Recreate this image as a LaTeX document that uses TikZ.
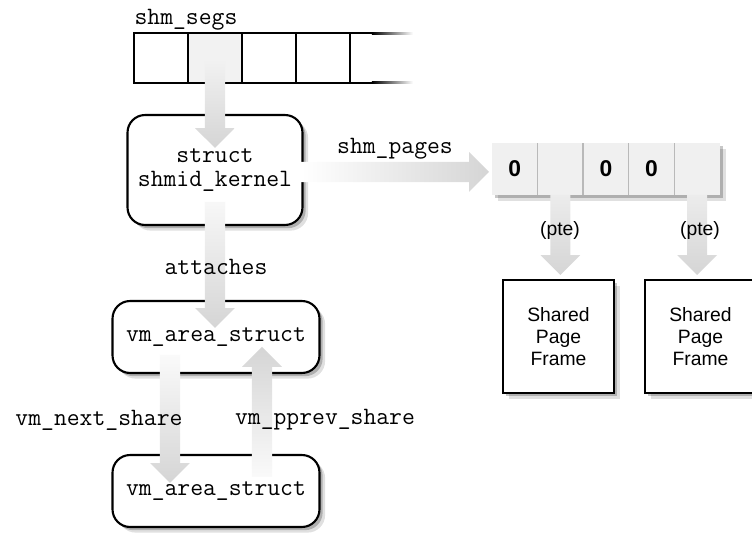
\documentclass[tikz,border=0pt]{standalone}
\usepackage{fontspec}
\setsansfont{Liberation Sans}
\usepackage{tikz}
\usetikzlibrary{calc,positioning,shadows}

\tikzset{
  mono/.style={font=\ttfamily\fontsize{14.2}{12.5}\selectfont},
  boxshadow/.style={drop shadow={shadow xshift=3.2pt, shadow yshift=-3.2pt, opacity=0.12, fill=black},
                    drop shadow={shadow xshift=1.8pt, shadow yshift=-1.8pt, opacity=0.22, fill=black}},
  segcell/.style={draw, line width=1.2pt, outer sep=0pt, inner sep=0pt, minimum width=1.08cm, minimum height=1cm},
  kbox/.style={draw, line width=1.2pt, rounded corners=10pt, fill=white, boxshadow, align=center, mono},
  pgcell/.style={fill=gray!12, outer sep=0pt, inner sep=0pt, minimum width=0.912cm, minimum height=1.04cm,
                 boxshadow, font=\sffamily\bfseries\fontsize{13}{13}\selectfont},
  framebox/.style={draw, line width=1.2pt, fill=white, boxshadow, minimum width=2.22cm, minimum height=2.26cm,
                   align=center, font=\sffamily\fontsize{11}{12.5}\selectfont},
  pte/.style={font=\sffamily\fontsize{11}{12}\selectfont},
  % fat grey arrow, drawn as a polygon from start to target
  fat/.style={to path={let \p1=($(\tikztotarget)!11.3pt!(\tikztostart)$) in
    ($(\tikztostart)!5.7pt!90:(\tikztotarget)$)
    -- ($(\p1)!5.7pt!90:(\tikztotarget)$)
    -- ($(\p1)!11.3pt!90:(\tikztotarget)$)
    -- (\tikztotarget)
    -- ($(\p1)!11.3pt!-90:(\tikztotarget)$)
    -- ($(\p1)!5.7pt!-90:(\tikztotarget)$)
    -- ($(\tikztostart)!5.7pt!-90:(\tikztotarget)$) -- cycle}}
}

\begin{document}
\begin{tikzpicture}[x=0.02cm, y=-0.02cm]
  \useasboundingbox (0,0) rectangle (752,537);

  % shm_segs array
  \node[mono] (segslbl) at (186,20) {shm\_segs};
  \node[segcell] (seg1) at (161,58) {};
  \node[segcell, fill=gray!10, right=0pt of seg1] (seg2) {};
  \node[segcell, right=0pt of seg2] (seg3) {};
  \node[segcell, right=0pt of seg3] (seg4) {};
  \draw[line width=1.2pt] (seg4.north east) -- ++(22,0) (seg4.south east) -- ++(22,0);
  \shade[left color=black, right color=white] ($(seg4.north east)+(22,-1)$) rectangle ++(41,2);
  \shade[left color=black, right color=white] ($(seg4.south east)+(22,-1)$) rectangle ++(41,2);

  % structures
  \node[kbox, minimum width=3.5cm, minimum height=2.2cm] (kern) at (215,170) {struct\\[1.5pt]shmid\_kernel};
  \node[kbox, minimum width=4.14cm, minimum height=1.44cm] (vm1) at (216,337) {vm\_area\_struct};
  \node[kbox, minimum width=4.14cm, minimum height=1.44cm] (vm2) at (216,491) {vm\_area\_struct};

  % page table
  \node[pgcell] (pg1) at (514.8,169) {0};
  \node[pgcell, right=0pt of pg1] (pg2) {};
  \node[pgcell, right=0pt of pg2] (pg3) {0};
  \node[pgcell, right=0pt of pg3] (pg4) {0};
  \node[pgcell, right=0pt of pg4] (pg5) {};
  \foreach \i in {1,...,4}
    \draw[gray!55, line width=0.8pt] (pg\i.north east) -- (pg\i.south east);

  \node[framebox] (frame1) at (558.5,336.5) {Shared\\Page\\Frame};
  \node[framebox] (frame2) at (700.5,336.5) {Shared\\Page\\Frame};

  % arrow ends
  \coordinate (kernin) at (215,148);
  \coordinate (kernout) at (215,202);
  \coordinate (vmin) at (215,328);
  \coordinate (pagesout) at (301,172);
  \coordinate (pagesin) at (489,172);
  \coordinate (pte1in) at ($(pg2.south)+(0,80)$);
  \coordinate (pte2in) at ($(pg5.south)+(0,80)$);
  \coordinate (nextout) at (170,355);
  \coordinate (nextin) at (170,483);
  \coordinate (prevout) at (262,477);
  \coordinate (previn) at (262,347);

  \shade[fat, top color=gray!10, bottom color=gray!33] (seg2.center) to (kernin);
  \shade[fat, top color=gray!6, bottom color=gray!33] (kernout) to (vmin);
  \shade[fat, left color=white, right color=gray!33] (pagesout) to (pagesin);
  \shade[fat, top color=gray!15, bottom color=gray!33] (pg2.south) to (pte1in);
  \shade[fat, top color=gray!15, bottom color=gray!33] (pg5.south) to (pte2in);
  \shade[fat, top color=gray!4, bottom color=gray!33] (nextout) to (nextin);
  \shade[fat, top color=gray!33, bottom color=gray!4] (prevout) to (previn);

  % labels
  \node[mono] (pageslbl) at (395,149) {shm\_pages};
  \node[mono] (attlbl) at (216,267) {attaches};
  \node[mono] (nextlbl) at (99,420) {vm\_next\_share};
  \node[mono] (prevlbl) at (325,420) {vm\_pprev\_share};
  \node[pte] (pte1) at (560,231) {(pte)};
  \node[pte] (pte2) at (700,231) {(pte)};
\end{tikzpicture}
\end{document}
